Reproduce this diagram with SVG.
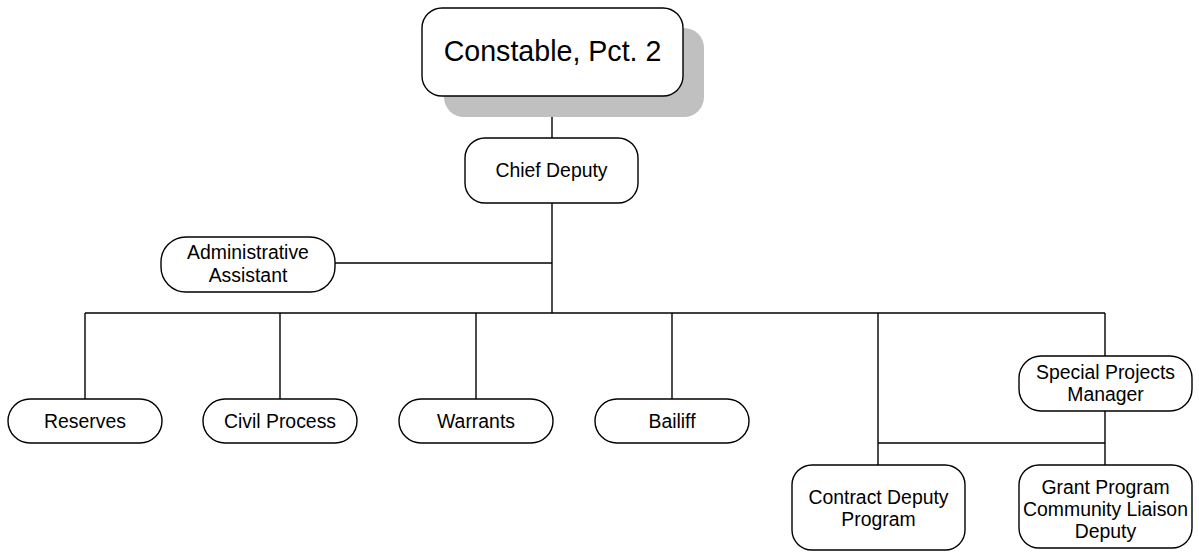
<svg xmlns="http://www.w3.org/2000/svg" width="1199" height="552" viewBox="0 0 1199 552">
<style>
.box{fill:#fff;stroke:#000;stroke-width:1.4}
.shadow{fill:#c0c0c0;stroke:none}
.t{font-family:"Liberation Sans",Arial,sans-serif;font-size:19.4px;fill:#000;text-anchor:middle}
.big{font-size:28.6px}
.c{stroke:#000;stroke-width:1.4;fill:none}
</style>
<rect width="1199" height="552" fill="#fff"/>
<g id="connectors">
<line class="c" x1="552" y1="96" x2="552" y2="138"/>
<line class="c" x1="552" y1="203" x2="552" y2="313"/>
<line class="c" x1="335" y1="263" x2="552" y2="263"/>
<line class="c" x1="85" y1="313" x2="1105" y2="313"/>
<line class="c" x1="85" y1="313" x2="85" y2="399"/>
<line class="c" x1="280" y1="313" x2="280" y2="399"/>
<line class="c" x1="476" y1="313" x2="476" y2="399"/>
<line class="c" x1="672" y1="313" x2="672" y2="399"/>
<line class="c" x1="878" y1="313" x2="878" y2="465"/>
<line class="c" x1="1105" y1="313" x2="1105" y2="356"/>
<line class="c" x1="1105" y1="411" x2="1105" y2="465"/>
<line class="c" x1="878" y1="443" x2="1105" y2="443"/>
</g>
<g id="constable">
<rect class="shadow" x="444" y="28" width="260" height="89" rx="20"/>
<rect class="box" x="422" y="8" width="261" height="88" rx="20"/>
<text class="t big" x="552.5" y="61">Constable, Pct. 2</text>
</g>
<g id="chief-deputy">
<rect class="box" x="465" y="138" width="173" height="65" rx="20"/>
<text class="t" x="551.5" y="177">Chief Deputy</text>
</g>
<g id="admin-assistant">
<rect class="box" x="161" y="237" width="174" height="55" rx="25"/>
<text class="t" x="248" y="259">Administrative</text>
<text class="t" x="248" y="282">Assistant</text>
</g>
<g id="reserves">
<rect class="box" x="8" y="399" width="154" height="44" rx="22"/>
<text class="t" x="85" y="428">Reserves</text>
</g>
<g id="civil-process">
<rect class="box" x="203" y="399" width="154" height="44" rx="22"/>
<text class="t" x="280" y="428">Civil Process</text>
</g>
<g id="warrants">
<rect class="box" x="399" y="399" width="154" height="44" rx="22"/>
<text class="t" x="476" y="428">Warrants</text>
</g>
<g id="bailiff">
<rect class="box" x="595" y="399" width="154" height="44" rx="22"/>
<text class="t" x="672" y="428">Bailiff</text>
</g>
<g id="special-projects">
<rect class="box" x="1019" y="356" width="173" height="55" rx="22"/>
<text class="t" x="1105.5" y="379">Special Projects</text>
<text class="t" x="1105.5" y="401">Manager</text>
</g>
<g id="contract-deputy">
<rect class="box" x="792" y="465" width="173" height="85" rx="20"/>
<text class="t" x="878.5" y="504">Contract Deputy</text>
<text class="t" x="878.5" y="526">Program</text>
</g>
<g id="grant-program">
<rect class="box" x="1019" y="465" width="173" height="83" rx="20"/>
<text class="t" x="1105.5" y="494">Grant Program</text>
<text class="t" x="1105.5" y="516">Community Liaison</text>
<text class="t" x="1105.5" y="538">Deputy</text>
</g>
</svg>
